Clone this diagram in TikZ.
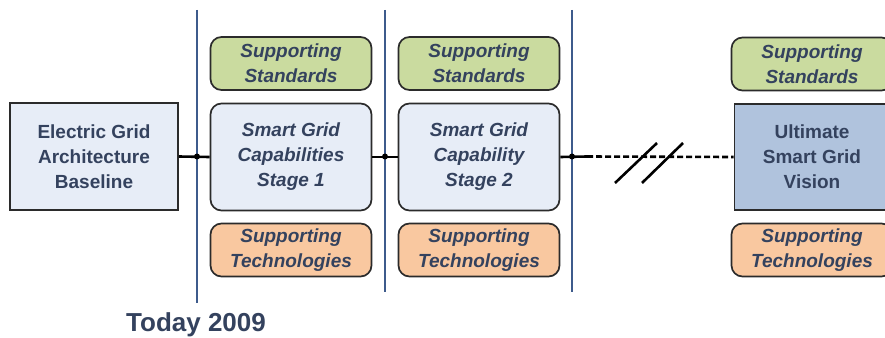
\documentclass[tikz,border=0pt]{standalone}
\usepackage{fontspec}
\setmainfont{Liberation Sans}
\definecolor{txtblue}{HTML}{34425E}
\definecolor{divblue}{HTML}{3E5B8C}
\definecolor{basefill}{HTML}{E7EDF7}
\definecolor{stdfill}{HTML}{CADB9F}
\definecolor{techfill}{HTML}{F9C8A0}
\definecolor{visionfill}{HTML}{B0C3DD}
\definecolor{edgegray}{HTML}{2B2B2B}
\tikzset{
  box/.style={draw=edgegray,line width=1.7pt,align=center,text=txtblue,
    font=\fontsize{19}{25}\selectfont\bfseries,inner sep=0pt},
  basebox/.style={box,fill=basefill,minimum width=168,minimum height=107},
  stagebox/.style={box,fill=basefill,rounded corners=11,minimum width=161,
    minimum height=107,font=\fontsize{19}{25}\selectfont\bfseries\itshape},
  stdbox/.style={box,fill=stdfill,rounded corners=11,minimum width=161,
    minimum height=53,font=\fontsize{19}{25}\selectfont\bfseries\itshape},
  techbox/.style={stdbox,fill=techfill},
  visionbox/.style={basebox,fill=visionfill,minimum width=155,minimum height=106},
  divider/.style={draw=divblue,line width=2.8pt},
  link/.style={draw=black,line width=2.6pt},
  joint/.style={circle,fill=black,inner sep=0pt,minimum size=6}
}
\begin{document}
\begin{tikzpicture}[x=1pt,y=-1pt]
\clip (0,0) rectangle (885,337);

% dividers between the stages
\coordinate(d1t) at (197,10);  \coordinate(d1b) at (197,303);
\coordinate(d2t) at (385,10);  \coordinate(d2b) at (385,292);
\coordinate(d3t) at (572,10);  \coordinate(d3b) at (572,292);
\draw[divider] (d1t) -- (d1b);
\draw[divider] (d2t) -- (d2b);
\draw[divider] (d3t) -- (d3b);

\node(base) at (94,156.5)[basebox]    {Electric Grid\\Architecture\\Baseline};
\node(s1)   at (291,157)[stagebox]    {Smart Grid\\Capabilities\\Stage 1};
\node(s2)   at (479,157)[stagebox]    {Smart Grid\\Capability\\Stage 2};
\node(goal) at (812,157)[visionbox]   {Ultimate\\Smart Grid\\Vision};

\node(std1) at (291,63.5)[stdbox]     {Supporting\\Standards};
\node(std2) at (479,63.5)[stdbox]     {Supporting\\Standards};
\node(std3) at (812,64)[stdbox]       {Supporting\\Standards};

\node(tec1) at (291,250)[techbox]     {Supporting\\Technologies};
\node(tec2) at (479,250)[techbox]     {Supporting\\Technologies};
\node(tec3) at (812,250)[techbox]     {Supporting\\Technologies};

\node(today) at (196,325)[text=txtblue,font=\fontsize{26}{30}\selectfont\bfseries] {Today 2009};

% links along the timeline
\coordinate(gap) at (587,156.5);
\path [link]
  (base.east)  edge  (s1.west)
  (s1.east)    edge  (s2.west)
  (s2.east)    edge  (gap);
\draw[link,dash pattern=on 6pt off 3pt] (gap) -- (goal.west);

\node(j1) at (197,156.5)[joint] {};
\node(j2) at (385,156.5)[joint] {};
\node(j3) at (572,156.5)[joint] {};

% break marks
\coordinate(b1) at (615,183); \coordinate(b2) at (657,143);
\coordinate(b3) at (642,183); \coordinate(b4) at (683,143);
\draw[draw=black,line width=2.6pt] (b1) -- (b2);
\draw[draw=black,line width=2.6pt] (b3) -- (b4);

\end{tikzpicture}
\end{document}
